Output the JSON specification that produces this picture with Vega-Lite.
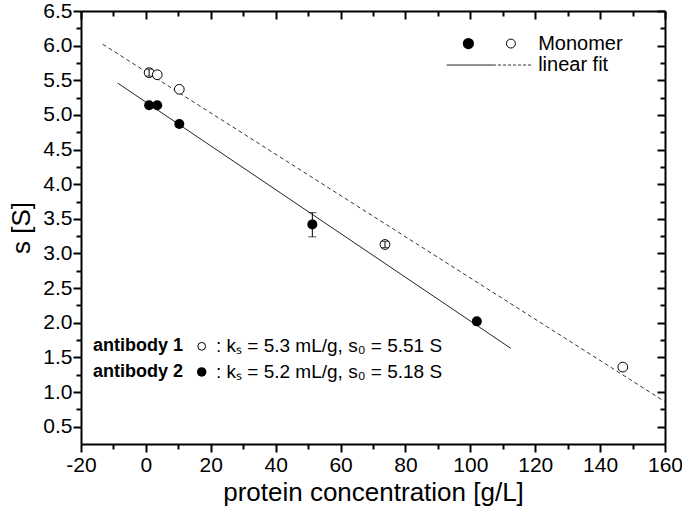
{
  "$schema": "https://vega.github.io/schema/vega-lite/v6.json",
  "width": 584,
  "height": 433,
  "autosize": {"type": "none"},
  "padding": {"left": 81, "top": 11, "right": 17, "bottom": 68},
  "background": "white",
  "config": {
    "view": {"stroke": null},
    "font": "Liberation Sans",
    "axis": {
      "domainColor": "black",
      "domainWidth": 2,
      "tickColor": "black",
      "tickWidth": 2,
      "grid": false,
      "labelColor": "black",
      "titleColor": "black",
      "labelFont": "Liberation Sans",
      "titleFont": "Liberation Sans",
      "labelFontSize": 21,
      "titleFontSize": 26,
      "titleFontWeight": "normal"
    }
  },
  "datasets": {
    "fit1": [{"x": -13.3, "s": 6.02}, {"x": 160, "s": 0.86}],
    "fit2": [{"x": -8.7, "s": 5.46}, {"x": 112.5, "s": 1.63}],
    "ab1": [
      {"x": 1.0, "s": 5.61},
      {"x": 3.5, "s": 5.58},
      {"x": 10.3, "s": 5.37},
      {"x": 73.7, "s": 3.13},
      {"x": 147, "s": 1.36}
    ],
    "ab2": [
      {"x": 1.0, "s": 5.14},
      {"x": 3.5, "s": 5.14},
      {"x": 10.3, "s": 4.87},
      {"x": 51.3, "s": 3.42},
      {"x": 102, "s": 2.02}
    ],
    "err": [
      {"x": 1.0, "lo": 5.56, "hi": 5.66},
      {"x": 73.7, "lo": 3.085, "hi": 3.175},
      {"x": 51.3, "lo": 3.24, "hi": 3.59}
    ]
  },
  "resolve": {"axis": {"x": "independent", "y": "independent"}},
  "layer": [
    {
      "data": {"name": "fit1"},
      "mark": {"type": "line", "color": "#333333", "strokeWidth": 1, "strokeDash": [4, 3]},
      "encoding": {
        "x": {
          "field": "x", "type": "quantitative",
          "scale": {"domain": [-20, 160], "nice": false, "zero": false},
          "axis": {
            "orient": "bottom",
            "title": "protein concentration [g/L]",
            "values": [-20, -10, 0, 10, 20, 30, 40, 50, 60, 70, 80, 90, 100, 110, 120, 130, 140, 150, 160],
            "labelExpr": "datum.value % 20 === 0 ? replace(datum.label, '−', '-') : ''",
            "tickSize": {"condition": {"test": "datum.value % 20 === 0", "value": 8}, "value": 5},
            "labelPadding": 2,
            "titlePadding": 4,
            "labelFlush": false,
            "labelOverlap": false
          }
        },
        "y": {
          "field": "s", "type": "quantitative",
          "scale": {"domain": [0.25, 6.5], "nice": false, "zero": false},
          "axis": {
            "orient": "left",
            "title": "s [S]",
            "values": [0.5, 0.75, 1, 1.25, 1.5, 1.75, 2, 2.25, 2.5, 2.75, 3, 3.25, 3.5, 3.75, 4, 4.25, 4.5, 4.75, 5, 5.25, 5.5, 5.75, 6, 6.25, 6.5],
            "labelExpr": "datum.value % 0.5 === 0 ? format(datum.value, '.1f') : ''",
            "tickSize": {"condition": {"test": "datum.value % 0.5 === 0", "value": 8}, "value": 5},
            "labelPadding": 1,
            "titlePadding": 8,
            "labelFlush": false,
            "labelOverlap": false
          }
        }
      }
    },
    {
      "data": {"name": "fit2"},
      "mark": {"type": "line", "color": "#222222", "strokeWidth": 1},
      "encoding": {
        "x": {
          "field": "x", "type": "quantitative",
          "scale": {"domain": [-20, 160], "nice": false, "zero": false},
          "axis": {
            "orient": "top",
            "title": null,
            "labels": false,
            "values": [-20, -10, 0, 10, 20, 30, 40, 50, 60, 70, 80, 90, 100, 110, 120, 130, 140, 150, 160],
            "tickSize": {"condition": {"test": "datum.value % 20 === 0", "value": -8}, "value": -5}
          }
        },
        "y": {
          "field": "s", "type": "quantitative",
          "scale": {"domain": [0.25, 6.5], "nice": false, "zero": false},
          "axis": {
            "orient": "right",
            "title": null,
            "labels": false,
            "values": [0.5, 0.75, 1, 1.25, 1.5, 1.75, 2, 2.25, 2.5, 2.75, 3, 3.25, 3.5, 3.75, 4, 4.25, 4.5, 4.75, 5, 5.25, 5.5, 5.75, 6, 6.25, 6.5],
            "tickSize": {"condition": {"test": "datum.value % 0.5 === 0", "value": -8}, "value": -5}
          }
        }
      }
    },
    {
      "data": {"name": "ab2"},
      "mark": {"type": "point", "shape": "circle", "filled": true, "color": "black", "size": 100, "opacity": 1},
      "encoding": {
        "x": {"field": "x", "type": "quantitative", "axis": null},
        "y": {"field": "s", "type": "quantitative", "axis": null}
      }
    },
    {
      "data": {"name": "ab1"},
      "mark": {"type": "point", "shape": "circle", "filled": true, "fill": "white", "stroke": "black", "strokeWidth": 1, "size": 95, "opacity": 1},
      "encoding": {
        "x": {"field": "x", "type": "quantitative", "axis": null},
        "y": {"field": "s", "type": "quantitative", "axis": null}
      }
    },
    {
      "data": {"name": "err"},
      "mark": {"type": "errorbar", "ticks": {"size": 8, "color": "black", "thickness": 1}, "rule": {"color": "black", "strokeWidth": 1}},
      "encoding": {
        "x": {"field": "x", "type": "quantitative", "axis": null},
        "y": {"field": "lo", "type": "quantitative", "axis": null},
        "y2": {"field": "hi"}
      }
    },
    {
      "data": {"values": [{"x": 99.4, "s": 6.03}]},
      "mark": {"type": "point", "shape": "circle", "filled": true, "color": "black", "size": 125, "opacity": 1},
      "encoding": {
        "x": {"field": "x", "type": "quantitative", "axis": null},
        "y": {"field": "s", "type": "quantitative", "axis": null}
      }
    },
    {
      "data": {"values": [{"x": 112.5, "s": 6.03}]},
      "mark": {"type": "point", "shape": "circle", "filled": false, "color": "black", "strokeWidth": 1, "size": 80, "opacity": 1},
      "encoding": {
        "x": {"field": "x", "type": "quantitative", "axis": null},
        "y": {"field": "s", "type": "quantitative", "axis": null}
      }
    },
    {
      "data": {"values": [{"x": 92.7, "x2": 107, "s": 5.72}]},
      "mark": {"type": "rule", "color": "#222222", "strokeWidth": 1},
      "encoding": {
        "x": {"field": "x", "type": "quantitative", "axis": null},
        "x2": {"field": "x2"},
        "y": {"field": "s", "type": "quantitative", "axis": null}
      }
    },
    {
      "data": {"values": [{"x": 107, "x2": 119.3, "s": 5.72}]},
      "mark": {"type": "rule", "color": "#333333", "strokeWidth": 1, "strokeDash": [3, 2]},
      "encoding": {
        "x": {"field": "x", "type": "quantitative", "axis": null},
        "x2": {"field": "x2"},
        "y": {"field": "s", "type": "quantitative", "axis": null}
      }
    },
    {
      "data": {"values": [{"x": 120.9, "s": 6.03, "label": "Monomer"}, {"x": 120.9, "s": 5.72, "label": "linear fit"}]},
      "mark": {"type": "text", "align": "left", "baseline": "middle", "fontSize": 20, "color": "black", "font": "Liberation Sans"},
      "encoding": {
        "x": {"field": "x", "type": "quantitative", "axis": null},
        "y": {"field": "s", "type": "quantitative", "axis": null},
        "text": {"field": "label"}
      }
    },
    {
      "data": {"values": [{"x": -16.3, "s": 1.66, "label": "antibody 1"}, {"x": -16.3, "s": 1.29, "label": "antibody 2"}]},
      "mark": {"type": "text", "align": "left", "baseline": "middle", "fontSize": 18, "fontWeight": "bold", "color": "black", "font": "Liberation Sans"},
      "encoding": {
        "x": {"field": "x", "type": "quantitative", "axis": null},
        "y": {"field": "s", "type": "quantitative", "axis": null},
        "text": {"field": "label"}
      }
    },
    {
      "data": {"values": [{"x": 17.2, "s": 1.66}]},
      "mark": {"type": "point", "shape": "circle", "filled": false, "color": "black", "strokeWidth": 1, "size": 60, "opacity": 1},
      "encoding": {
        "x": {"field": "x", "type": "quantitative", "axis": null},
        "y": {"field": "s", "type": "quantitative", "axis": null}
      }
    },
    {
      "data": {"values": [{"x": 17.2, "s": 1.29}]},
      "mark": {"type": "point", "shape": "circle", "filled": true, "color": "black", "size": 90, "opacity": 1},
      "encoding": {
        "x": {"field": "x", "type": "quantitative", "axis": null},
        "y": {"field": "s", "type": "quantitative", "axis": null}
      }
    },
    {
      "data": {"values": [{"x": 21.6, "s": 1.66, "label": ": kₛ = 5.3 mL/g, s₀ = 5.51 S"}, {"x": 21.6, "s": 1.29, "label": ": kₛ = 5.2 mL/g, s₀ = 5.18 S"}]},
      "mark": {"type": "text", "align": "left", "baseline": "middle", "fontSize": 19, "color": "black", "font": "Liberation Sans"},
      "encoding": {
        "x": {"field": "x", "type": "quantitative", "axis": null},
        "y": {"field": "s", "type": "quantitative", "axis": null},
        "text": {"field": "label"}
      }
    }
  ]
}
